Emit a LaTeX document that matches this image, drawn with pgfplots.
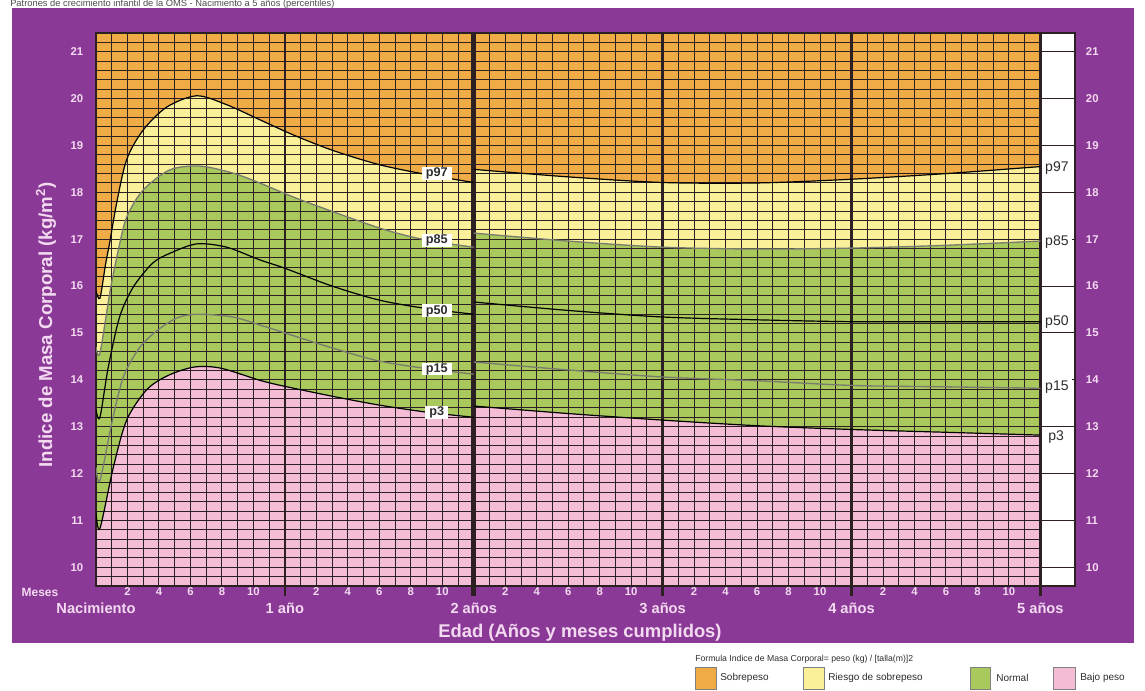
\documentclass[border=0pt]{standalone}
\usepackage{pgfplots}
\pgfplotsset{compat=1.18}
\usepackage{fontspec}
\setmainfont{Liberation Sans}
\definecolor{purp}{RGB}{139,57,151}
\definecolor{orng}{RGB}{239,171,69}
\definecolor{yell}{RGB}{251,240,154}
\definecolor{grn}{RGB}{169,201,92}
\definecolor{pnk}{RGB}{245,189,213}
\definecolor{gridc}{RGB}{45,32,35}
\definecolor{tickc}{RGB}{243,218,240}
\definecolor{curvg}{RGB}{120,125,110}
\definecolor{lbl}{RGB}{45,45,45}

% percentile data (months, BMI)
\pgfplotstableread{
x y
0 15.90
0.25 15.74
0.6 16.45
0.9 16.98
1.3 17.75
1.95 18.70
3 19.33
4.5 19.82
6.4 20.06
8.3 19.87
10.4 19.55
12.5 19.23
15 18.90
18 18.59
21 18.38
24 18.21
}\pnineAa
\pgfplotstableread{
x y
24 18.49
30 18.33
36 18.21
42 18.20
48 18.28
54 18.40
60 18.55
}\pnineAb
\pgfplotstableread{
x y
0 14.70
0.25 14.57
0.9 15.90
1.42 16.77
1.95 17.47
3 18.05
4.7 18.48
6.6 18.56
8.7 18.41
10.4 18.20
13 17.84
18 17.24
21 16.98
24 16.83
}\peightAa
\pgfplotstableread{
x y
24 17.13
30 16.96
36 16.83
42 16.79
48 16.81
54 16.87
60 16.96
}\peightAb
\pgfplotstableread{
x y
0 13.35
0.25 13.20
0.78 14.27
1.5 15.34
2.37 15.98
3.6 16.49
4.7 16.70
6.4 16.90
8.3 16.83
10.4 16.56
12 16.38
15 16.00
18 15.70
21 15.52
24 15.40
}\pfiftyAa
\pgfplotstableread{
x y
24 15.66
30 15.48
36 15.34
42 15.28
48 15.24
54 15.24
60 15.24
}\pfiftyAb
\pgfplotstableread{
x y
0 12.13
0.25 11.85
1.0 13.07
1.74 14.06
2.8 14.70
4.07 15.10
5.3 15.34
6.6 15.40
8.7 15.34
10.4 15.17
12 15.00
15 14.68
18 14.40
21 14.24
24 14.12
}\pfifteenAa
\pgfplotstableread{
x y
24 14.38
30 14.21
36 14.06
42 13.98
48 13.88
54 13.85
60 13.82
}\pfifteenAb
\pgfplotstableread{
x y
0 11.17
0.25 10.83
1.1 12.13
1.95 13.14
3.2 13.78
4.5 14.08
6.2 14.27
7.9 14.25
10.4 13.99
12 13.86
15 13.65
18 13.46
21 13.31
24 13.20
}\pthreeAa
\pgfplotstableread{
x y
24 13.44
30 13.28
36 13.14
42 13.02
48 12.94
54 12.88
60 12.82
}\pthreeAb

\begin{document}
\begin{tikzpicture}
\begin{scope}[x=0.75pt,y=-0.75pt]
\useasboundingbox (0,0) rectangle (1145,691);
\fill[purp] (12,8) rectangle (1134,643);
\node[anchor=base west, font=\fontsize{7}{8}\selectfont, text=black!70, inner sep=0] at (10,6.6) {Patrones de crecimiento infantil de la OMS - Nacimiento a 5 años (percentiles)};
\node[font=\bfseries\fontsize{9}{10}\selectfont, text=tickc] at (40,592) {Meses};
\node[rotate=90, font=\bfseries\fontsize{14}{16}\selectfont, text=tickc] at (46,325) {Indice de Masa Corporal (kg/m\textsuperscript{2})};
\node[anchor=base, font=\bfseries\fontsize{13.8}{16}\selectfont, text=tickc] at (580,637) {Edad (Años y meses cumplidos)};
% legend
\node[anchor=west, font=\fontsize{6.5}{7}\selectfont, text=lbl, inner sep=0] at (695,659) {Formula Indice de Masa Corporal= peso (kg) / [talla(m)]2};
\filldraw[fill=orng, draw=black!50, line width=0.5pt] (695,667) rectangle (716,689);
\node[anchor=west, font=\fontsize{7.5}{8}\selectfont, text=lbl, inner sep=0] at (720,678) {Sobrepeso};
\filldraw[fill=yell, draw=black!50, line width=0.5pt] (803,667) rectangle (824,689);
\node[anchor=west, font=\fontsize{7.5}{8}\selectfont, text=lbl, inner sep=0] at (828,678) {Riesgo de sobrepeso};
\filldraw[fill=grn, draw=black!50, line width=0.5pt] (970,667) rectangle (990,689);
\node[anchor=west, font=\fontsize{7.5}{8}\selectfont, text=lbl, inner sep=0] at (996,678) {Normal};
\filldraw[fill=pnk, draw=black!50, line width=0.5pt] (1053,667) rectangle (1075,689);
\node[anchor=west, font=\fontsize{7.5}{8}\selectfont, text=lbl, inner sep=0] at (1080,678) {Bajo peso};
\end{scope}

\begin{axis}[
  at={(72pt,-439.5pt)}, anchor=south west,
  scale only axis, width=734.25pt, height=414.75pt,
  xmin=0, xmax=62.2, ymin=9.6, ymax=21.4,
  axis line style={draw=none},
  major tick length=0, minor tick length=0,
  clip mode=individual, no markers,
  /pgf/number format/assume math mode=true,
  xtick={2,4,6,8,10,14,16,18,20,22,26,28,30,32,34,38,40,42,44,46,50,52,54,56,58},
  xticklabels={2,4,6,8,10,2,4,6,8,10,2,4,6,8,10,2,4,6,8,10,2,4,6,8,10},
  xticklabel style={text=tickc, font=\bfseries\fontsize{8.5}{9}\selectfont, inner sep=1pt},
  ytick={10,11,...,21},
  yticklabel style={text=tickc, font=\bfseries\fontsize{8.5}{9}\selectfont, xshift=-6pt},
]
\fill[orng] (axis cs:0,9.6) rectangle (axis cs:60,21.4);
\fill[white] (axis cs:60,9.6) rectangle (axis cs:62.2,21.4);
% zones
\addplot[smooth, draw=none, fill=yell] table {\pnineAa} \closedcycle;
\addplot[smooth, draw=none, fill=yell] table {\pnineAb} \closedcycle;
\addplot[smooth, draw=none, fill=grn] table {\peightAa} \closedcycle;
\addplot[smooth, draw=none, fill=grn] table {\peightAb} \closedcycle;
\addplot[smooth, draw=none, fill=pnk] table {\pthreeAa} \closedcycle;
\addplot[smooth, draw=none, fill=pnk] table {\pthreeAb} \closedcycle;
% grid
\pgfplotsinvokeforeach{1,...,59}{\draw[gridc, line width=0.7pt] (axis cs:#1,9.6) -- (axis cs:#1,21.4);}
\pgfplotsinvokeforeach{1,...,58}{\draw[gridc, line width=0.7pt] (axis cs:0,{9.6+0.2*#1}) -- (axis cs:60,{9.6+0.2*#1});}
\pgfplotsinvokeforeach{10,11,12,13,15,16,18,19,20,21}{\draw[gridc, line width=0.7pt] (axis cs:60,#1) -- (axis cs:62.2,#1);}
\draw[gridc, line width=0.7pt] (axis cs:62.0,14) -- (axis cs:62.2,14);
\draw[gridc, line width=0.7pt] (axis cs:62.0,17) -- (axis cs:62.2,17);
\draw[gridc, line width=0.9pt] (axis cs:0,9.6) rectangle (axis cs:62.2,21.4);
\pgfplotsinvokeforeach{12,36,48,60}{\draw[gridc, line width=1.8pt] (axis cs:#1,9.386) -- (axis cs:#1,21.4);}
\draw[gridc, line width=3.5pt] (axis cs:24,9.386) -- (axis cs:24,21.4);
% curves
\addplot[smooth, black, line width=0.9pt] table {\pnineAa};
\addplot[smooth, black, line width=0.9pt] table {\pnineAb};
\addplot[smooth, curvg, line width=1pt] table {\peightAa};
\addplot[smooth, curvg, line width=1pt] table {\peightAb};
\addplot[smooth, black, line width=0.9pt] table {\pfiftyAa};
\addplot[smooth, black, line width=0.9pt] table {\pfiftyAb};
\addplot[smooth, curvg, line width=1pt] table {\pfifteenAa};
\addplot[smooth, curvg, line width=1pt] table {\pfifteenAb};
\addplot[smooth, black, line width=0.9pt] table {\pthreeAa};
\addplot[smooth, black, line width=0.9pt] table {\pthreeAb};
% labels in the middle
\tikzset{mlab/.style={fill=white, inner xsep=3pt, inner ysep=0.6pt, text=lbl, font=\bfseries\fontsize{9.5}{10}\selectfont}}
\node[mlab] at (axis cs:21.65,18.41) {p97};
\node[mlab] at (axis cs:21.65,16.97) {p85};
\node[mlab] at (axis cs:21.65,15.47) {p50};
\node[mlab] at (axis cs:21.65,14.23) {p15};
\node[mlab] at (axis cs:21.65,13.31) {p3};
% labels on the right strip
\tikzset{rlab/.style={inner sep=0pt, text=lbl, font=\fontsize{10.5}{11}\selectfont}}
\node[rlab] at (axis cs:61.05,18.52) {p97};
\node[rlab] at (axis cs:61.05,16.94) {p85};
\node[rlab] at (axis cs:61.05,15.23) {p50};
\node[rlab] at (axis cs:61.05,13.84) {p15};
\node[rlab] at (axis cs:61.0,12.77) {p3};
% year labels
\tikzset{ylab/.style={anchor=base, text=tickc, font=\bfseries\fontsize{11}{12}\selectfont, yshift=-20.25pt}}
\node[ylab] at (axis cs:0,9.6) {Nacimiento};
\node[ylab] at (axis cs:12,9.6) {1 año};
\node[ylab] at (axis cs:24,9.6) {2 años};
\node[ylab] at (axis cs:36,9.6) {3 años};
\node[ylab] at (axis cs:48,9.6) {4 años};
\node[ylab] at (axis cs:60,9.6) {5 años};
\end{axis}

\begin{axis}[
  at={(72pt,-439.5pt)}, anchor=south west,
  scale only axis, width=734.25pt, height=414.75pt,
  xmin=0, xmax=62.2, ymin=9.6, ymax=21.4,
  hide x axis, axis line style={draw=none},
  major tick length=0, minor tick length=0,
  /pgf/number format/assume math mode=true,
  ytick={10,11,...,21}, yticklabel pos=right,
  yticklabel style={text=tickc, font=\bfseries\fontsize{8.5}{9}\selectfont, xshift=4.7pt},
]
\end{axis}
\end{tikzpicture}
\end{document}
